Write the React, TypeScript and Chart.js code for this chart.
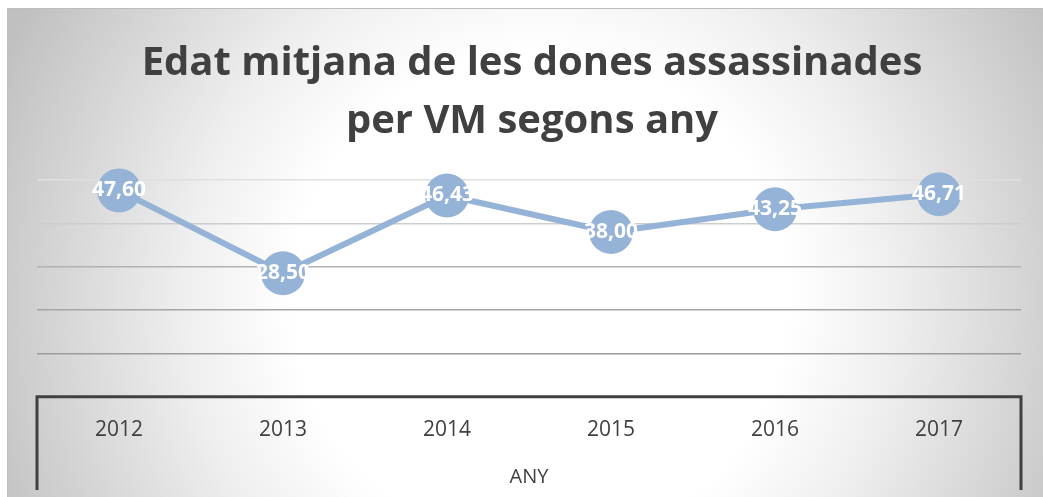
import React, { useEffect, useRef } from "react";
import { Chart, registerables } from "chart.js";

Chart.register(...registerables);

// ---- data ----
const years: string[] = ["2012", "2013", "2014", "2015", "2016", "2017"];
const meanAge: number[] = [47.6, 28.5, 46.43, 38.0, 43.25, 46.71];
const titleLines: string[] = ["Edat mitjana de les dones assassinades", "per VM segons any"];
const axisTitle = "ANY";
const yMin = 0;
const yMax = 50;
const yStep = 10;

const FONT = "'Open Sans', 'DejaVu Sans', sans-serif";
const LINE_BLUE = "#95B3D7";
const TEXT_GRAY = "#404040";
const gridColors: Record<number, string> = {
  50: "#e0e0e0",
  40: "#cdcdcd",
  30: "#b2b2b2",
  20: "#a6a6a6",
  10: "#9c9c9c",
};

const fmt = (v: number) => v.toFixed(2).replace(".", ",");

export default function App() {
  const ref = useRef<HTMLCanvasElement>(null);

  useEffect(() => {
    document.body.style.margin = "0";
    document.body.style.overflow = "hidden";
    const canvas = ref.current;
    if (!canvas) return;

    const background = {
      id: "background",
      beforeDraw(chart: any) {
        const { ctx, width, height } = chart;
        ctx.save();
        ctx.fillStyle = "#ffffff";
        ctx.fillRect(0, 0, width, height);
        const g = ctx.createRadialGradient(540, 300, 0, 540, 300, 590);
        g.addColorStop(0, "#ffffff");
        g.addColorStop(0.42, "#ffffff");
        g.addColorStop(0.6, "#efefef");
        g.addColorStop(1, "#c0c0c0");
        ctx.fillStyle = g;
        ctx.fillRect(7, 8, width - 7, height - 8);
        ctx.strokeStyle = "#bdbdbd";
        ctx.lineWidth = 1;
        ctx.beginPath();
        ctx.moveTo(7, 8.5);
        ctx.lineTo(width, 8.5);
        ctx.moveTo(7.5, 8);
        ctx.lineTo(7.5, height);
        ctx.stroke();
        ctx.restore();
      },
    };

    const axisBox = {
      id: "axisBox",
      afterDraw(chart: any) {
        const { ctx, chartArea, height } = chart;
        const { left, right, bottom } = chartArea;
        ctx.save();
        ctx.strokeStyle = TEXT_GRAY;
        ctx.lineWidth = 3;
        ctx.lineJoin = "miter";
        ctx.beginPath();
        ctx.moveTo(left, height - 7);
        ctx.lineTo(left, bottom);
        ctx.lineTo(right, bottom);
        ctx.lineTo(right, height - 7);
        ctx.stroke();
        ctx.restore();
      },
    };

    const dataLabels = {
      id: "dataLabels",
      afterDatasetsDraw(chart: any) {
        const { ctx } = chart;
        const meta = chart.getDatasetMeta(0);
        const values = chart.data.datasets[0].data as number[];
        ctx.save();
        ctx.fillStyle = "#ffffff";
        ctx.font = `bold 21px ${FONT}`;
        ctx.textAlign = "center";
        ctx.textBaseline = "middle";
        meta.data.forEach((pt: any, i: number) => {
          ctx.fillText(fmt(values[i]), pt.x, pt.y);
        });
        ctx.restore();
      },
    };

    const chart = new Chart(canvas, {
      type: "line",
      data: {
        labels: years,
        datasets: [
          {
            data: meanAge,
            borderColor: LINE_BLUE,
            backgroundColor: LINE_BLUE,
            borderWidth: 6,
            borderJoinStyle: "round",
            pointRadius: 22,
            pointHoverRadius: 22,
            pointBackgroundColor: LINE_BLUE,
            pointBorderWidth: 0,
            tension: 0,
            clip: false as any,
          },
        ],
      },
      options: {
        responsive: false,
        animation: false,
        events: [],
        layout: { padding: { left: 37, right: 16, top: 0, bottom: 8 } },
        plugins: {
          legend: { display: false },
          tooltip: { enabled: false },
          title: {
            display: true,
            text: titleLines,
            color: TEXT_GRAY,
            font: { family: FONT, size: 40, weight: "bold", lineHeight: 1.45 },
            padding: { top: 35, bottom: 29 },
          },
        },
        scales: {
          x: {
            offset: true,
            grid: { display: false, drawTicks: false },
            border: { display: false },
            ticks: {
              color: TEXT_GRAY,
              font: { family: FONT, size: 21 },
              padding: 21,
              maxRotation: 0,
              autoSkip: false,
            },
            title: {
              display: true,
              text: axisTitle,
              color: TEXT_GRAY,
              font: { family: FONT, size: 20 },
              padding: { top: 1, bottom: 0 },
            },
          },
          y: {
            min: yMin,
            max: yMax,
            ticks: { display: false, stepSize: yStep },
            grid: {
              color: (c: any) => gridColors[c.tick?.value] ?? "rgba(0,0,0,0)",
              lineWidth: 1.5,
              drawTicks: false,
            },
            border: { display: false },
            afterFit(s: any) {
              s.width = 0;
            },
          },
        },
      },
      plugins: [background, axisBox, dataLabels],
    });

    return () => chart.destroy();
  }, []);

  return (
    <canvas
      ref={ref}
      width={1043}
      height={497}
      style={{ display: "block", width: 1043, height: 497 }}
    />
  );
}
